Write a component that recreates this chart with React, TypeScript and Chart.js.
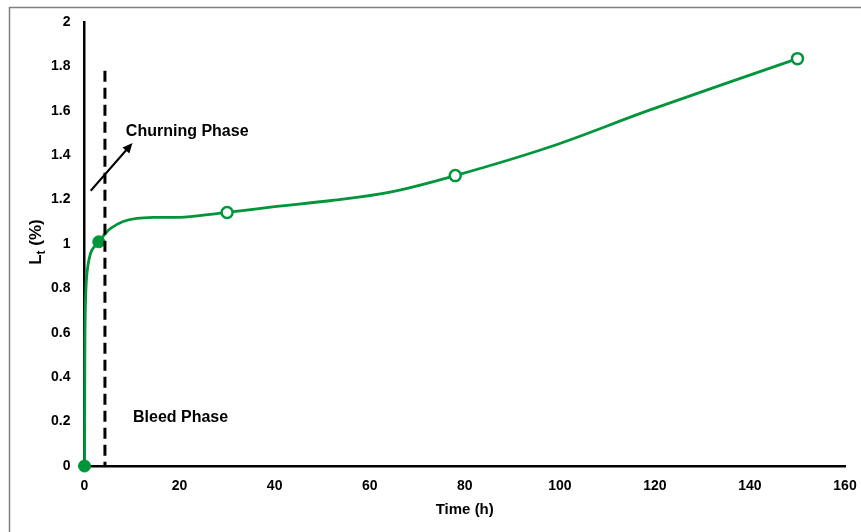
import { useEffect, useRef } from "react";
import { Chart, registerables } from "chart.js";

Chart.register(...registerables);

// ---- data ----
const curveX = [0, 0.05, 0.1, 0.3, 0.7, 1.5, 3, 4.3, 5.5, 8, 11, 15, 21, 30, 40, 52, 64, 78, 98, 119, 150];
const curveY = [0, 0.3, 0.6, 0.8, 0.9, 0.97, 1.01, 1.045, 1.07, 1.1, 1.115, 1.12, 1.121, 1.142, 1.168, 1.196, 1.232, 1.308, 1.438, 1.604, 1.835];
const filledX = [0, 3];
const filledY = [0, 1.01];
const openX = [30, 78, 150];
const openY = [1.142, 1.308, 1.835];

const xMin = 0;
const xMax = 160;
const xStep = 20;
const yMin = 0;
const yMax = 2;
const yStep = 0.2;

const xTitle = "Time (h)";
const yTitleMain = "L";
const yTitleSub = "t";
const yTitleRest = " (%)";

const phaseLineX = 4.3;
const phaseLineTop = 1.78;
const arrowFrom = [1.3, 1.24];
const arrowTo = [10.1, 1.455];
const churningLabel = "Churning Phase";
const churningAt = [8.7, 1.506];
const bleedLabel = "Bleed Phase";
const bleedAt = [10.2, 0.219];

const GREEN = "#00953a";
const FONT = '"Liberation Sans", Arial, sans-serif';

const toPts = (xs: number[], ys: number[]) => xs.map((x, i) => ({ x, y: ys[i] }));

const overlay = {
  id: "overlay",
  afterDraw(chart: any) {
    const { ctx, scales, chartArea } = chart;
    const x = scales.x;
    const y = scales.y;
    ctx.save();

    // outer frame (top and left)
    ctx.strokeStyle = "#808080";
    ctx.lineWidth = 1.5;
    ctx.beginPath();
    ctx.moveTo(9.5, 532);
    ctx.lineTo(9.5, 7.5);
    ctx.lineTo(861, 7.5);
    ctx.stroke();

    // dashed phase separator
    ctx.strokeStyle = "#000";
    ctx.lineWidth = 3;
    ctx.setLineDash([11, 6]);
    ctx.beginPath();
    const px = x.getPixelForValue(phaseLineX);
    ctx.moveTo(px, y.getPixelForValue(phaseLineTop));
    ctx.lineTo(px, y.getPixelForValue(0));
    ctx.stroke();
    ctx.setLineDash([]);

    // arrow
    const ax0 = x.getPixelForValue(arrowFrom[0]);
    const ay0 = y.getPixelForValue(arrowFrom[1]);
    const ax1 = x.getPixelForValue(arrowTo[0]);
    const ay1 = y.getPixelForValue(arrowTo[1]);
    const ang = Math.atan2(ay1 - ay0, ax1 - ax0);
    const headLen = 10;
    const headW = 4.5;
    ctx.lineWidth = 2;
    ctx.beginPath();
    ctx.moveTo(ax0, ay0);
    ctx.lineTo(ax1 - Math.cos(ang) * headLen * 0.8, ay1 - Math.sin(ang) * headLen * 0.8);
    ctx.stroke();
    ctx.fillStyle = "#000";
    ctx.beginPath();
    ctx.moveTo(ax1, ay1);
    ctx.lineTo(
      ax1 - Math.cos(ang) * headLen - Math.sin(ang) * headW,
      ay1 - Math.sin(ang) * headLen + Math.cos(ang) * headW
    );
    ctx.lineTo(
      ax1 - Math.cos(ang) * headLen + Math.sin(ang) * headW,
      ay1 - Math.sin(ang) * headLen - Math.cos(ang) * headW
    );
    ctx.closePath();
    ctx.fill();

    // annotations
    ctx.fillStyle = "#000";
    ctx.font = `bold 16px ${FONT}`;
    ctx.textAlign = "left";
    ctx.textBaseline = "middle";
    ctx.fillText(churningLabel, x.getPixelForValue(churningAt[0]), y.getPixelForValue(churningAt[1]));
    ctx.fillText(bleedLabel, x.getPixelForValue(bleedAt[0]), y.getPixelForValue(bleedAt[1]));

    // x title
    ctx.font = `bold 15px ${FONT}`;
    ctx.textAlign = "center";
    ctx.fillText(xTitle, (chartArea.left + chartArea.right) / 2, 510);

    // y title with subscript, rotated
    ctx.translate(35, 242);
    ctx.rotate(-Math.PI / 2);
    ctx.textAlign = "left";
    ctx.textBaseline = "alphabetic";
    const mainFont = `bold 17px ${FONT}`;
    const subFont = `bold 12px ${FONT}`;
    ctx.font = mainFont;
    const wMain = ctx.measureText(yTitleMain).width;
    const wRest = ctx.measureText(yTitleRest).width;
    ctx.font = subFont;
    const wSub = ctx.measureText(yTitleSub).width;
    const total = wMain + wSub + wRest;
    let cx = -total / 2;
    ctx.font = mainFont;
    ctx.fillText(yTitleMain, cx, 6);
    cx += wMain;
    ctx.font = subFont;
    ctx.fillText(yTitleSub, cx, 10);
    cx += wSub;
    ctx.font = mainFont;
    ctx.fillText(yTitleRest, cx, 6);

    ctx.restore();
  },
};

export default function App() {
  const ref = useRef<HTMLCanvasElement | null>(null);

  useEffect(() => {
    if (!ref.current) return;
    const chart = new Chart(ref.current, {
      type: "scatter",
      data: {
        datasets: [
          {
            label: "filled",
            data: toPts(filledX, filledY),
            pointRadius: 6,
            pointBackgroundColor: GREEN,
            pointBorderColor: GREEN,
            pointBorderWidth: 1,
            showLine: false,
            clip: false,
            order: 0,
          },
          {
            label: "open",
            data: toPts(openX, openY),
            pointRadius: 5.5,
            pointBackgroundColor: "#ffffff",
            pointBorderColor: GREEN,
            pointBorderWidth: 2.5,
            showLine: false,
            clip: false,
            order: 0,
          },
          {
            label: "curve",
            data: toPts(curveX, curveY),
            showLine: true,
            borderColor: GREEN,
            borderWidth: 2.8,
            pointRadius: 0,
            tension: 0.35,
            clip: false,
            order: 1,
          } as any,
        ],
      },
      options: {
        responsive: false,
        animation: false,
        events: [],
        layout: { padding: { top: 22, right: 16, left: 0, bottom: 0 } },
        plugins: {
          legend: { display: false },
          tooltip: { enabled: false },
          title: { display: false },
        },
        scales: {
          x: {
            type: "linear",
            min: xMin,
            max: xMax,
            grid: { display: false, drawTicks: false },
            border: { display: true, color: "#000", width: 2.5 },
            ticks: {
              stepSize: xStep,
              color: "#000",
              padding: 12,
              maxRotation: 0,
              font: { family: FONT, size: 14, weight: "bold" },
            },
            afterFit: (s: any) => {
              s.height = 66;
              s.paddingLeft = 0;
              s.paddingRight = 0;
            },
          },
          y: {
            type: "linear",
            min: yMin,
            max: yMax,
            grid: { display: false, drawTicks: false },
            border: { display: true, color: "#000", width: 2.5 },
            ticks: {
              stepSize: yStep,
              color: "#000",
              padding: 14,
              font: { family: FONT, size: 14, weight: "bold" },
              callback: (v: any) => String(Number(Number(v).toFixed(1))),
            },
            afterFit: (s: any) => {
              s.width = 84.5;
              s.paddingTop = 0;
              s.paddingBottom = 0;
            },
          },
        },
      } as any,
      plugins: [overlay],
    });
    return () => chart.destroy();
  }, []);

  return (
    <div style={{ position: "absolute", left: 0, top: 0, width: 861, height: 532, background: "#fff" }}>
      <canvas ref={ref} width={861} height={532} style={{ display: "block" }} />
    </div>
  );
}
